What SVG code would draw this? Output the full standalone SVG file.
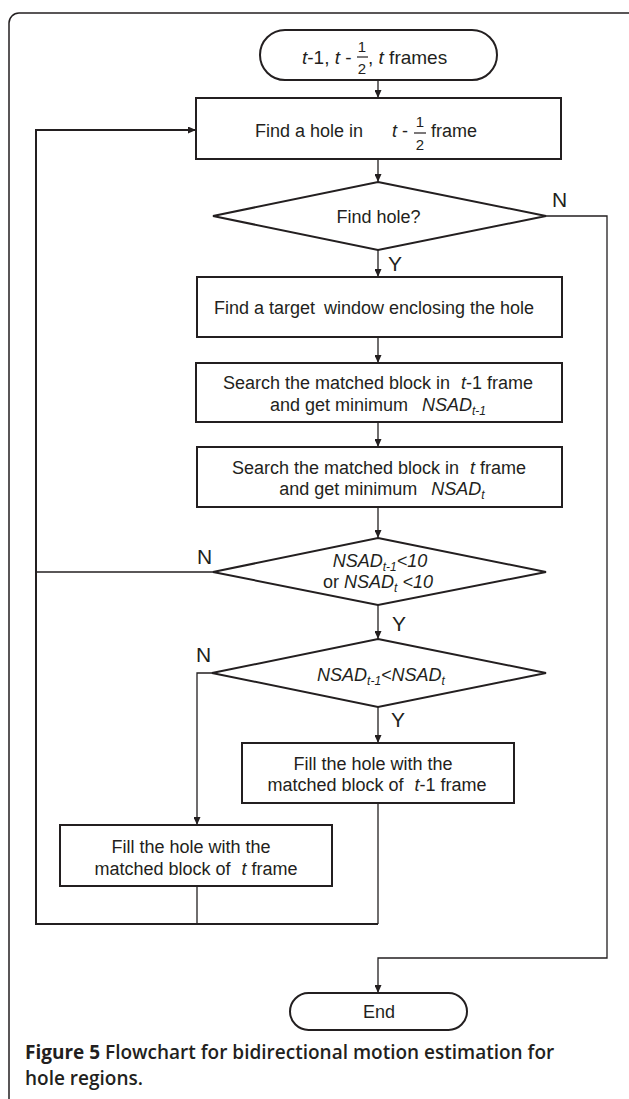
<svg xmlns="http://www.w3.org/2000/svg" width="629" height="1099" viewBox="0 0 629 1099">
<style>
.bg{fill:#ffffff}
.box{fill:#ffffff;stroke:#231f20;stroke-width:2}
.con{fill:none;stroke:#231f20;stroke-width:1.3}
.frame{fill:none;stroke:#231f20;stroke-width:1.5}
.t{font-family:"Liberation Sans",Arial,sans-serif;font-size:18px;fill:#231f20}
.lbl{font-family:"Liberation Sans",Arial,sans-serif;font-size:21px;fill:#231f20}
.it{font-style:italic}
.sub{font-size:12px;font-style:italic}
.cap{font-family:"Open Sans","Noto Sans",sans-serif;font-size:19px;fill:#231f20;font-weight:600}
</style>
<defs>
<marker id="ah" markerUnits="userSpaceOnUse" markerWidth="8" markerHeight="7" refX="8" refY="3.5" orient="auto">
<path d="M0,0 L8,3.5 L0,7 z" fill="#231f20"/>
</marker>
</defs>
<rect class="bg" x="0" y="0" width="629" height="1099"/>
<path class="frame" d="M9,1099 V23 A10,10 0 0 1 19,13 H630"/>

<g id="connectors">
<path class="con" d="M378,80 V98" marker-end="url(#ah)"/>
<path class="con" d="M378,159 V182" marker-end="url(#ah)"/>
<path class="con" d="M378,250 V277" marker-end="url(#ah)"/>
<path class="con" d="M378,337 V363" marker-end="url(#ah)"/>
<path class="con" d="M378,422 V447" marker-end="url(#ah)"/>
<path class="con" d="M378,507 V538" marker-end="url(#ah)"/>
<path class="con" d="M378,605 V639" marker-end="url(#ah)"/>
<path class="con" d="M378,707 V743" marker-end="url(#ah)"/>
<path class="con" d="M212,673 H197 V825" marker-end="url(#ah)"/>
<path class="con" d="M546,216 H607 V958 H378 V993" marker-end="url(#ah)"/>
<path class="con" d="M378,803 V924"/>
<path class="con" d="M197,886 V924"/>
<path class="con" style="stroke-width:2" d="M378,924 H36 V130 H196" marker-end="url(#ah)"/>
<path class="con" d="M213,572 H36"/>
</g>

<g id="start">
<rect class="box" x="260" y="30" width="237" height="50" rx="25" ry="25"/>
<text class="t" x="302" y="64" style="font-size:19px"><tspan class="it">t</tspan>-1, <tspan class="it">t</tspan> -</text>
<text class="t" x="362" y="52" text-anchor="middle" style="font-size:15px">1</text>
<line x1="357" y1="57" x2="368" y2="57" stroke="#231f20" stroke-width="1.2"/>
<text class="t" x="362" y="74" text-anchor="middle" style="font-size:15px">2</text>
<text class="t" x="368" y="64" style="font-size:19px">, <tspan class="it">t</tspan> frames</text>
</g>

<g id="find-hole-frame">
<rect class="box" x="196" y="98" width="365" height="61"/>
<text class="t" x="363" y="137" text-anchor="end">Find a hole in</text>
<text class="t" x="392" y="137"><tspan class="it">t</tspan> -</text>
<text class="t" x="420" y="127" text-anchor="middle" style="font-size:15px">1</text>
<line x1="414" y1="133" x2="426" y2="133" stroke="#231f20" stroke-width="1.2"/>
<text class="t" x="420" y="150" text-anchor="middle" style="font-size:15px">2</text>
<text class="t" x="431" y="137">frame</text>
</g>

<g id="find-hole-decision">
<polygon class="box" points="378,182 546,216 378,250 213,216"/>
<text class="t" x="378.5" y="223" text-anchor="middle">Find hole?</text>
<text class="lbl" x="552" y="207">N</text>
<text class="lbl" x="388" y="271">Y</text>
</g>

<g id="target-window">
<rect class="box" x="197" y="277" width="365" height="60"/>
<text class="t" x="374" y="314" text-anchor="middle">Find a target <tspan dx="4">window enclosing the hole</tspan></text>
</g>

<g id="search-t-1">
<rect class="box" x="196" y="363" width="366" height="59"/>
<text class="t" x="378" y="389" text-anchor="middle">Search the matched block in<tspan dx="11" class="it">t</tspan>-1 frame</text>
<text class="t" x="378" y="411" text-anchor="middle">and get minimum<tspan dx="14" class="it">NSAD</tspan><tspan class="sub" dy="4">t-1</tspan></text>
</g>

<g id="search-t">
<rect class="box" x="197" y="447" width="365" height="60"/>
<text class="t" x="379" y="474" text-anchor="middle">Search the matched block in<tspan dx="11" class="it">t</tspan> frame</text>
<text class="t" x="382" y="495" text-anchor="middle">and get minimum<tspan dx="14" class="it">NSAD</tspan><tspan class="sub" dy="4">t</tspan></text>
</g>

<g id="threshold-decision">
<polygon class="box" points="378,538 546,572 378,605 213,572"/>
<text class="t it" x="380" y="567" text-anchor="middle">NSAD<tspan class="sub" dy="4">t-1</tspan><tspan dy="-4">&lt;10</tspan></text>
<text class="t" x="378" y="588" text-anchor="middle">or <tspan class="it">NSAD</tspan><tspan class="sub" dy="4">t</tspan><tspan class="it" dy="-4"> &lt;10</tspan></text>
<text class="lbl" x="197" y="564">N</text>
<text class="lbl" x="392" y="631">Y</text>
</g>

<g id="compare-decision">
<polygon class="box" points="378,639 546,673 378,707 212,673"/>
<text class="t it" x="381" y="681" text-anchor="middle">NSAD<tspan class="sub" dy="4">t-1</tspan><tspan dy="-4">&lt;NSAD</tspan><tspan class="sub" dy="4">t</tspan></text>
<text class="lbl" x="196" y="662">N</text>
<text class="lbl" x="391" y="727">Y</text>
</g>

<g id="fill-t-1">
<rect class="box" x="242" y="743" width="272" height="60"/>
<text class="t" x="373" y="770" text-anchor="middle">Fill the hole with the</text>
<text class="t" x="377" y="791" text-anchor="middle">matched block of<tspan dx="11" class="it">t</tspan>-1 frame</text>
</g>

<g id="fill-t">
<rect class="box" x="60" y="825" width="272" height="61"/>
<text class="t" x="191" y="853" text-anchor="middle">Fill the hole with the</text>
<text class="t" x="196" y="875" text-anchor="middle">matched block of<tspan dx="11" class="it">t</tspan> frame</text>
</g>

<g id="end">
<rect class="box" x="290" y="993" width="177" height="37" rx="18.5" ry="18.5"/>
<text class="t" x="379" y="1018" text-anchor="middle">End</text>
</g>

<g id="caption">
<text class="cap" x="25" y="1059"><tspan font-weight="700">Figure 5</tspan> Flowchart for bidirectional motion estimation for</text>
<text class="cap" x="25" y="1085">hole regions.</text>
</g>
</svg>
